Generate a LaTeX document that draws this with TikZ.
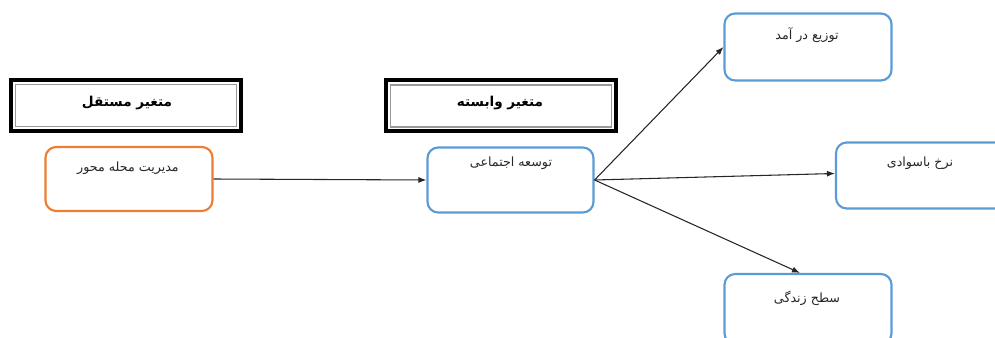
\documentclass[tikz,border=0pt]{standalone}
\usepackage{fontspec}
\newfontfamily\arabicfont[Script=Arabic]{DejaVu Sans}
\TeXXeTstate=1
\usetikzlibrary{arrows.meta}
\definecolor{boxorange}{RGB}{237,125,49}
\definecolor{boxblue}{RGB}{91,155,213}
\begin{document}
\begin{tikzpicture}[x=0.75pt,y=-0.75pt,
  header/.style={draw=black,line width=3pt,inner sep=0pt},
  headerinner/.style={draw=black!40,line width=1.4pt,inner sep=0pt},
  rbox/.style={draw=#1,line width=1.6pt,rounded corners=8pt,inner sep=0pt},
  boxtext/.style={font=\arabicfont\fontsize{9.5}{11}\selectfont,anchor=north,inner sep=0pt,text=black!85},
  headtext/.style={font=\arabicfont\bfseries\fontsize{10.2}{12}\selectfont,inner sep=0pt},
  conn/.style={draw=black!85,line width=0.8pt,-{Latex[length=6pt,width=4.5pt]}}
]
\useasboundingbox (0,0) rectangle (995,338);
\clip (0,0) rectangle (995,338);
% headers
\node[header,minimum width=230*0.75pt,minimum height=51*0.75pt] (h1) at (126,105.5) {};
\node[headerinner,minimum width=221*0.75pt,minimum height=42*0.75pt] (h1i) at (126,105.5) {};
\node[headtext] (h1t) at (127,103) {\beginR متغیر مستقل\endR};
\node[header,minimum width=230*0.75pt,minimum height=51*0.75pt] (h2) at (501,106) {};
\node[headerinner,minimum width=221*0.75pt,minimum height=42*0.75pt] (h2i) at (501,106) {};
\node[headtext] (h2t) at (500,103) {\beginR متغیر وابسته\endR};
% boxes
\node[rbox=boxorange,minimum width=167*0.75pt,minimum height=64*0.75pt] (a) at (129,179) {};
\node[boxtext] at (128,162) (at) {\beginR مدیریت محله محور\endR};
\node[rbox=boxblue,minimum width=166*0.75pt,minimum height=65*0.75pt] (b) at (510.5,180) {};
\node[boxtext] at (511,157) (bt) {\beginR توسعه اجتماعی\endR};
\node[rbox=boxblue,minimum width=167*0.75pt,minimum height=67*0.75pt] (c) at (808,47) {};
\node[boxtext] at (807,27) (ct) {\beginR توزیع در آمد\endR};
\node[rbox=boxblue,minimum width=170*0.75pt,minimum height=66*0.75pt] (d) at (921,175.5) {};
\node[boxtext] at (920,157) (dt) {\beginR نرخ باسوادی\endR};
\node[rbox=boxblue,minimum width=167*0.75pt,minimum height=70*0.75pt] (e) at (808,309) {};
\node[boxtext] at (807,291) (et) {\beginR سطح زندگی\endR};
% connectors
\draw[conn] (a.east) -- (b.west);
\draw[conn] (b.east) -- (c.west);
\draw[conn] (b.east) -- ([yshift=1.5pt]d.west);
\draw[conn] (b.east) -- ([xshift=-6pt]e.north);
\end{tikzpicture}
\end{document}
